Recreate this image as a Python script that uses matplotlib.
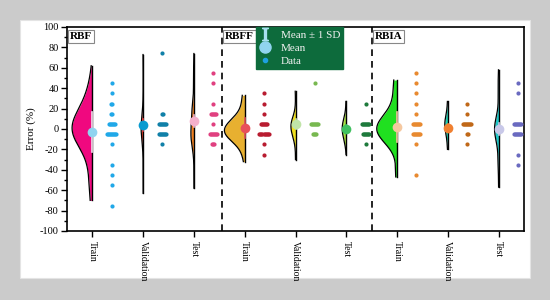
import numpy as np
import matplotlib.pyplot as plt
from matplotlib.lines import Line2D
from matplotlib.patches import Rectangle

plt.rcParams['font.family'] = ['Liberation Serif', 'DejaVu Serif']
plt.rcParams['mathtext.fontset'] = 'stix'
plt.rcParams['axes.unicode_minus'] = False

# categorias
labels = ['Train', 'Validation', 'Test'] * 3
models = ['RBF', 'RBFF', 'RBIA']

# datos (valor de error, numero de puntos en ese valor)
vals = [
    [45, 35, 25, 15, 5, -5, -15, -35, -45, -55, -75],
    [75, 15, 5, -5, -15],
    [55, 45, 25, 15, 5, -5, -15],
    [35, 25, 15, 5, -5, -15, -25],
    [45, 5, -5],
    [25, 5, -5, -15],
    [55, 45, 35, 25, 15, 5, -5, -15, -45],
    [25, 15, 5, -5, -15],
    [45, 35, 5, -5, -25, -35],
]
counts = [
    [1, 1, 2, 2, 7, 10, 1, 1, 1, 1, 1],
    [1, 2, 8, 8, 1],
    [1, 1, 1, 6, 1, 8, 3],
    [1, 1, 1, 7, 10, 1, 1],
    [1, 8, 4],
    [1, 8, 7, 1],
    [1, 1, 1, 1, 1, 8, 8, 1, 1],
    [1, 1, 9, 2, 1],
    [1, 1, 8, 8, 1, 1],
]

# media y desviacion
means = [-3, 4, 8, 1, 5, 0, 2, 1, 0]
sds = [20, 6, 6, 10, 5, 4, 15, 4, 6]

# extremos del violin
v_lo = [-70, -63, -58, -32, -30, -25, -47, -20, -57]
v_hi = [62, 73, 74, 33, 37, 27, 48, 27, 58]

# Colores
fill_c = ['#f0087f', '#e8402a', '#f08020', '#e8b030', '#f0e020',
          '#a8e040', '#20e020', '#20d0b0', '#20c8c8']
mean_c = ['#90d4f0', '#0a9bd0', '#f4b0cc', '#e8505a', '#c0e4a8',
          '#40c060', '#f5c8a0', '#f08030', '#c8c8e8']
sd_c = ['#f8e0f0', '#e04040', '#f4b0cc', '#e05058', '#c0e4a8',
        '#40c060', '#f5c8a0', '#f08030', '#c8c8e8']
pt_c = ['#20a8e8', '#1080a8', '#e04080', '#b81c30', '#78b850',
        '#1e7a3c', '#e88a30', '#c06818', '#6a6ac0']

# ancho maximo del violin y ancho de banda del KDE
v_width = [0.40, 0.04, 0.06, 0.40, 0.09, 0.08, 0.40, 0.06, 0.08]
bw = [17, 10, 10, 9, 8, 8, 12, 8, 10]

W, H, DPI = 550, 300, 100
fig = plt.figure(figsize=(W/DPI, H/DPI), dpi=DPI, facecolor='#cbcbcb')
fig.patches.append(Rectangle((20/W, 1-278/H), 510/W, 258/H, transform=fig.transFigure,
                             facecolor='white', edgecolor='#e4e4e4', lw=0.8, zorder=-5))
ax = fig.add_axes([67/W, 1-231/H, 457/W, 204/H])
ax.set_zorder(2)

pos = np.arange(1, 10)
for i in range(9):
    x0 = pos[i]
    data = np.repeat(vals[i], counts[i]).astype(float)
    y = np.linspace(v_lo[i], v_hi[i], 300)
    dens = np.exp(-0.5*((y[:, None]-data[None, :])/bw[i])**2).sum(axis=1)
    w = dens/dens.max()*v_width[i]
    ax.fill_betweenx(y, x0-w, x0, color=fill_c[i], lw=0, zorder=2)
    ax.plot(x0-w, y, color='k', lw=0.9, zorder=3)
    ax.plot([x0, x0], [v_lo[i], v_hi[i]], color='k', lw=1.0, zorder=3)
    # linea de desviacion y media
    ax.plot([x0, x0], [means[i]-sds[i], means[i]+sds[i]], color=sd_c[i], lw=1.2, zorder=4)
    ax.plot(x0, means[i], 'o', ms=7, color=mean_c[i], mec='none', zorder=5)
    # puntos
    for v, n in zip(vals[i], counts[i]):
        off = (np.arange(n)-(n-1)/2)*0.02
        ax.plot(x0+0.38+off, [v]*n, 'o', ms=3.0, color=pt_c[i], mec='none', zorder=4)

for xs in [3.55, 6.5]:
    ax.axvline(xs, color='k', lw=1.2, ls=(0, (4, 3)), zorder=1)

for k, xs in enumerate([0.5, 3.55, 6.5]):
    ax.text(xs+0.06, 95, models[k], fontsize=8, fontweight='bold', va='top', ha='left',
            bbox=dict(facecolor='white', edgecolor='#888888', lw=0.8, pad=1.5), zorder=6)

ax.set_xlim(0.5, 9.5)
ax.set_ylim(-100, 100)
ax.set_xticks(pos)
ax.set_xticklabels(labels, rotation=270, fontsize=7)
ax.set_yticks(np.arange(-100, 101, 20))
ax.set_yticks(np.arange(-90, 100, 20), minor=True)
ax.tick_params(axis='y', labelsize=7.5, length=4, width=1, pad=2)
ax.tick_params(axis='y', which='minor', length=2.5, width=1)
ax.tick_params(axis='x', length=4, width=1, pad=3)
ax.set_ylabel('Error (%)', fontsize=8, labelpad=3)
for s in ax.spines.values():
    s.set_linewidth(1.2)

handles = [
    Line2D([], [], ls='none', marker=r'$\mathrm{I}$', ms=9, color='#a8e0f0'),
    Line2D([], [], ls='none', marker='o', ms=8, color='#90d4f0'),
    Line2D([], [], ls='none', marker='o', ms=3, color='#1ea0e0'),
]
leg = ax.legend(handles, ['Mean \u00b1 1 SD', 'Mean', 'Data'], loc='upper left',
                bbox_to_anchor=(0.413, 1.0), frameon=True, fancybox=False, fontsize=8,
                labelcolor='#f0f0f0', handlelength=1.2, handletextpad=0.8,
                borderpad=0.25, labelspacing=0.3, borderaxespad=0)
leg.get_frame().set_facecolor('#0d6b3c')
leg.get_frame().set_edgecolor('#0d6b3c')
leg.get_frame().set_alpha(1)
leg.set_zorder(7)

plt.savefig('out.png', dpi=DPI, facecolor=fig.get_facecolor())
